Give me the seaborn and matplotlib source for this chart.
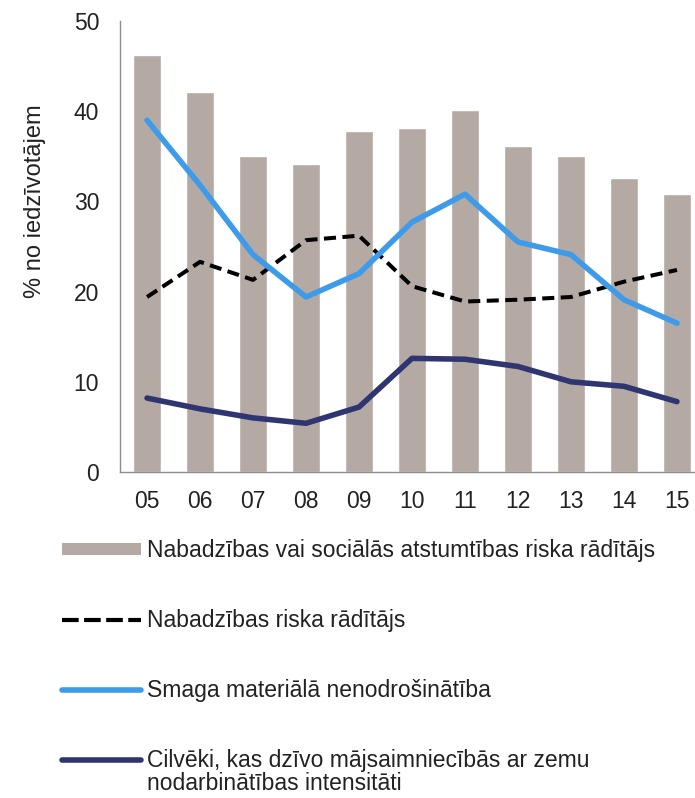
import numpy as np
import pandas as pd
import matplotlib
matplotlib.use("Agg")
import matplotlib.pyplot as plt
import seaborn as sns
from matplotlib.patches import Patch
from matplotlib.lines import Line2D

years = ["05", "06", "07", "08", "09", "10", "11", "12", "13", "14", "15"]
risk_or_exclusion = [46.2, 42.1, 35.0, 34.1, 37.8, 38.1, 40.1, 36.1, 35.0, 32.6, 30.8]
poverty_risk = [19.4, 23.3, 21.3, 25.7, 26.2, 20.6, 18.9, 19.1, 19.4, 21.1, 22.4]
material_deprivation = [39.0, 31.8, 24.1, 19.4, 22.0, 27.7, 30.8, 25.5, 24.1, 19.1, 16.5]
low_work_intensity = [8.2, 7.0, 6.0, 5.4, 7.2, 12.6, 12.5, 11.7, 10.0, 9.5, 7.8]

labels = [
    "Nabadzības vai sociālās atstumtības riska rādītājs",
    "Nabadzības riska rādītājs",
    "Smaga materiālā nenodrošinātība",
    "Cilvēki, kas dzīvo mājsaimniecībās ar zemu\nnodarbinātības intensitāti",
]
y_ticks = [0, 10, 20, 30, 40, 50]
y_label = "% no iedzīvotājem"

bar_color = "#b5aaa3"
blue = "#3d9be9"
navy = "#2f3570"
text_color = "#222222"

sns.set_theme(style="white")
plt.rcParams["font.family"] = ["Liberation Sans", "DejaVu Sans"]

df = pd.DataFrame({
    "year": years,
    "pos": np.arange(len(years)),
    "bar": risk_or_exclusion,
    "pov": poverty_risk,
    "mat": material_deprivation,
    "low": low_work_intensity,
})

fig = plt.figure(figsize=(6.95, 7.98), dpi=100)
ax = fig.add_axes([120 / 695, 1 - 472 / 798, 575 / 695, 451 / 798])

sns.barplot(data=df, x="year", y="bar", color=bar_color, width=0.52,
            saturation=1, ax=ax, order=years)
dash = (0, (3.0, 1.6))
sns.lineplot(data=df, x="pos", y="pov", color="black", lw=2.9, ax=ax,
             linestyle=dash)
sns.lineplot(data=df, x="pos", y="mat", color=blue, lw=4.0, ax=ax)
sns.lineplot(data=df, x="pos", y="low", color=navy, lw=4.0, ax=ax)
for ln in ax.lines:
    ln.set_solid_capstyle("round")
    ln.set_solid_joinstyle("round")
    ln.set_dash_capstyle("butt")

ax.set_xlim(-0.51, 10.34)
ax.set_ylim(0, 50)
ax.set_yticks(y_ticks)
ax.set_xticks(np.arange(len(years)))
ax.set_xticklabels(years)
ax.tick_params(axis="both", labelsize=16.5, colors=text_color, length=0)
ax.tick_params(axis="x", pad=13)
ax.tick_params(axis="y", pad=15)
ax.set_xlabel("")
ax.set_ylabel(y_label, fontsize=17, color=text_color)
ax.yaxis.set_label_coords(-0.128, 0.60)
sns.despine(ax=ax)
for s in ["left", "bottom"]:
    ax.spines[s].set_color("#8c8c8c")
    ax.spines[s].set_linewidth(1.0)

first_lines = [lab.split("\n")[0] for lab in labels]
handles = [
    Patch(facecolor=bar_color, edgecolor="none"),
    Line2D([], [], color="black", lw=3.0, linestyle=(0, (4.0, 1.3))),
    Line2D([], [], color=blue, lw=4.0, solid_capstyle="round"),
    Line2D([], [], color=navy, lw=4.0, solid_capstyle="round"),
]
fs = 16.5
leg = fig.legend(handles, first_lines, loc="upper left",
                 bbox_to_anchor=(62 / 695, 1 - 539 / 798),
                 frameon=False, fontsize=fs, handlelength=3.45,
                 handleheight=0.44, handletextpad=0.26, labelspacing=2.05,
                 borderaxespad=0, borderpad=0)
for t in leg.get_texts():
    t.set_color(text_color)

# continuation lines of multi-line legend labels
fig.canvas.draw()
W, H = fig.bbox.width, fig.bbox.height
for t, lab in zip(leg.get_texts(), labels):
    parts = lab.split("\n")
    if len(parts) > 1:
        bb = t.get_window_extent()
        cy = (bb.y0 + bb.y1) / 2
        for i, extra in enumerate(parts[1:], start=1):
            fig.text(bb.x0 / W, (cy - 23 * i) / H, extra, fontsize=fs,
                     color=text_color, va="center", ha="left")

fig.savefig("out.png", dpi=100)
